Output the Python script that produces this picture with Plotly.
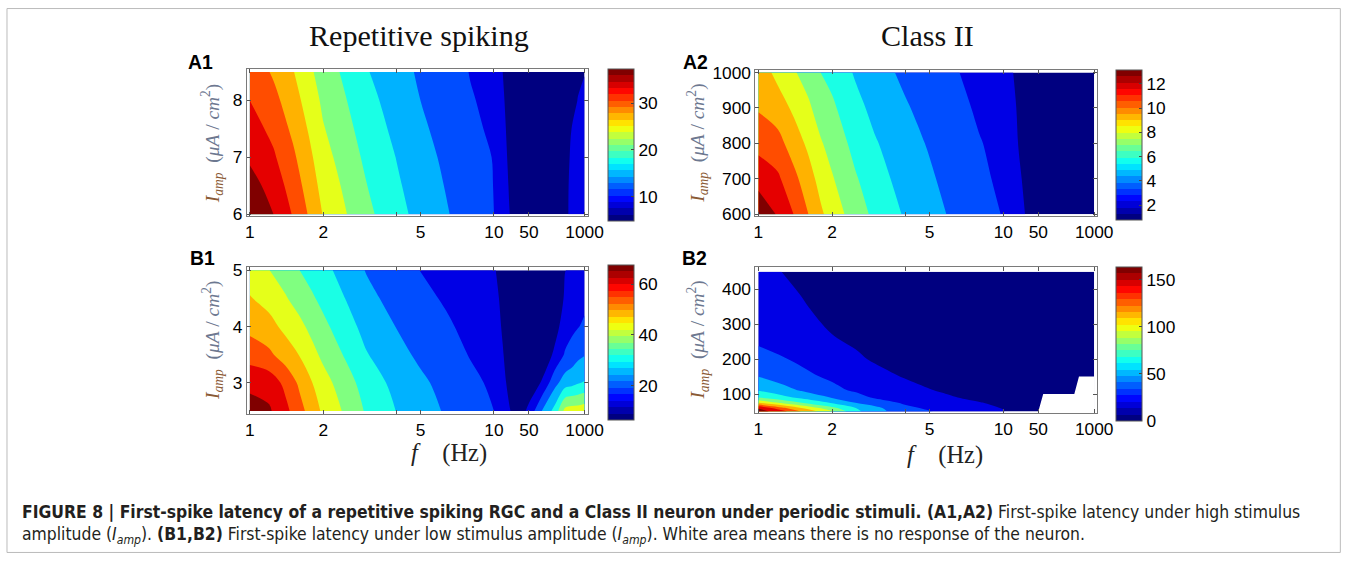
import numpy as np
import plotly.graph_objects as go

# ------------------------------------------------------------------ data
# x-axis tick labels (stimulus frequency, Hz)
freq_ticks = [1, 2, 4, 5, 10, 50, 1000]
freq_ticktext = ["1", "2", "", "5", "10", "50", "1000"]

# ---- A1: repetitive spiking RGC, high amplitude (latency, ms)
A1_freq = [1, 1.25, 1.5, 1.75, 2, 2.5, 3, 4, 5, 6.5, 8, 10, 15, 20, 30, 50, 100, 200, 350, 500, 700, 1000]
A1_amp = [6.0, 6.5, 7.0, 7.5, 8.0, 8.5]
A1_cols = [
    [37.5, 35.8, 34.0, 32.8, 31.5, 30.5],
    [34.5, 33.2, 31.9, 30.7, 29.4, 28.1],
    [31.3, 30.2, 29.1, 27.9, 26.8, 25.7],
    [28.2, 27.2, 26.2, 25.2, 24.2, 23.2],
    [25.3, 24.4, 23.6, 22.7, 21.9, 21.0],
    [22.5, 21.8, 21.0, 20.3, 19.5, 18.8],
    [20.3, 19.6, 18.9, 18.1, 17.4, 16.7],
    [17.4, 16.9, 16.4, 15.8, 15.3, 14.8],
    [15.6, 15.1, 14.6, 14.0, 13.5, 13.0],
    [13.6, 13.2, 12.8, 12.4, 12.0, 11.6],
    [12.0, 11.7, 11.4, 11.0, 10.7, 10.4],
    [10.5, 10.45, 10.4, 10.1, 9.85, 9.6],
    [8.7, 8.5, 8.2, 8.0, 7.8, 7.48],
    [7.6, 7.4, 7.2, 7.0, 6.7, 6.5],
    [6.5, 6.4, 6.2, 6.1, 5.9, 5.8],
    [5.8, 5.7, 5.6, 5.5, 5.4, 5.3],
    [5.5, 5.4, 5.3, 5.2, 5.1, 5.0],
    [5.8, 5.6, 5.5, 5.3, 5.2, 5.0],
    [7.2, 7.15, 7.05, 6.6, 6.0, 5.3],
    [7.8, 7.8, 7.7, 7.52, 7.0, 6.3],
    [8.0, 8.0, 7.9, 7.8, 7.55, 7.2],
    [8.2, 8.2, 8.1, 8.0, 7.8, 7.45],
]
A1_levels = dict(start=7.5, end=34.5, size=3.0)
A1_cbar = dict(zmin=4.7, zmax=37.2, ticks=[10, 20, 30])

# ---- A2: Class II neuron, high amplitude
A2_freq = [1, 1.2, 1.4, 1.6, 1.8, 2, 2.5, 3, 4, 5, 6.5, 8, 10, 15, 20, 30, 50, 100, 300, 1000]
A2_amp = [600, 700, 800, 900, 1000]
A2_rows = [
    [13.2, 12.75, 11.55, 10.4, 9.4, 8.65, 7.4, 6.5, 5.45, 4.85, 4.1, 3.6, 3.15, 2.6, 2.3, 1.9, 1.4, 1.0, 0.85, 0.8],
    [12.6, 11.8, 10.7, 9.7, 8.75, 8.1, 6.9, 6.1, 5.1, 4.55, 3.9, 3.4, 3.0, 2.45, 2.15, 1.75, 1.3, 0.97, 0.84, 0.8],
    [11.1, 10.8, 9.8, 8.95, 8.1, 7.55, 6.4, 5.7, 4.8, 4.3, 3.65, 3.25, 2.9, 2.3, 1.98, 1.65, 1.25, 0.95, 0.83, 0.79],
    [10.3, 9.8, 8.95, 8.2, 7.45, 7.0, 5.95, 5.25, 4.5, 4.0, 3.45, 3.05, 2.75, 2.2, 1.9, 1.5, 1.15, 0.92, 0.81, 0.79],
    [9.9, 8.85, 8.1, 7.5, 6.78, 6.45, 5.45, 4.85, 4.15, 3.75, 3.23, 2.9, 2.6, 2.05, 1.75, 1.4, 1.1, 0.9, 0.8, 0.78],
]
A2_levels = dict(start=2.0, end=12.8, size=1.2)
A2_cbar = dict(zmin=0.75, zmax=13.1, ticks=[2, 4, 6, 8, 10, 12])

# ---- B1: repetitive spiking RGC, low amplitude
B1_freq = [1, 1.2, 1.4, 1.6, 1.8, 2, 2.5, 3, 4, 5, 6.5, 8, 10, 15, 20, 30, 40, 50, 100, 200, 350, 500, 700, 1000]
B1_amp = [2.5, 3.0, 3.5, 4.0, 4.5, 5.0]
B1_cols = [
    [68, 64.8, 57.2, 52.4, 48.4, 45],
    [66.8, 63.4, 55.2, 50.0, 45.8, 42.1],
    [61.6, 58.5, 51.1, 46.4, 42.5, 39.2],
    [56.2, 52.8, 47.7, 43.5, 39.4, 36.0],
    [51.0, 48.1, 43.8, 40.2, 36.7, 33.8],
    [46.9, 44.3, 40.6, 37.4, 34.4, 31.8],
    [40.6, 38.3, 35.0, 32.2, 29.6, 27.3],
    [35.3, 33.3, 30.4, 28.0, 25.7, 23.7],
    [29.8, 28.2, 25.8, 23.8, 21.8, 20.2],
    [26.6, 25.1, 22.9, 21.1, 19.4, 17.9],
    [23.1, 21.9, 20.1, 18.6, 17.2, 16.0],
    [20.3, 19.3, 17.7, 16.5, 15.2, 14.2],
    [18.0, 17.0, 15.6, 14.4, 13.3, 12.3],
    [14.5, 13.2, 12.3, 11.45, 11.0, 10.8],
    [12.4, 11.0, 10.0, 9.5, 9.0, 8.8],
    [10.0, 8.0, 7.2, 6.8, 6.5, 6.4],
    [11.2, 7.8, 6.9, 6.6, 6.4, 6.4],
    [13.5, 8.0, 6.8, 6.5, 6.4, 6.5],
    [24, 12.5, 8.0, 6.8, 6.5, 6.5],
    [32, 22, 13, 10, 9, 9],
    [44, 27, 18.7, 14.5, 12.5, 11.95],
    [45, 28, 20.5, 16.5, 13.5, 12.3],
    [45, 29.5, 22.5, 17.7, 14, 12.5],
    [46, 30.5, 23.7, 19, 16.5, 15],
]
B1_levels = dict(start=12.0, end=66.0, size=6.0)
B1_cbar = dict(zmin=6.3, zmax=67.5, ticks=[20, 40, 60])

# ---- B2: Class II neuron, low amplitude
B2_freq = [1, 1.25, 1.5, 2, 2.5, 3, 4, 5, 6, 8, 10, 12, 20, 50, 100, 300, 1000]
B2_amp = [50, 60, 75, 90, 110, 150, 200, 275, 350, 450]
B2_rows = [
    [163, 145, 123.5, 95, 66, 52, 38, 32, 27, 21, 16.2, 14, 12, 10, 9, 8, 8],
    [154, 128, 108, 82, 62, 50, 35, 28, 23, 18.5, 15, 13, 11.5, 10, 9, 8, 8],
    [109, 90, 78, 60, 46, 40, 28, 23, 19.5, 16, 13, 12, 11, 10, 9, 8, 8],
    [77, 67, 58, 45.5, 37, 29, 23, 19, 16.5, 13, 11, 10.5, 10, 9, 8, 7, 7],
    [61.8, 52, 45.5, 35, 29, 25, 20, 16, 14, 11.5, 10, 9.5, 9, 8, 7, 6, 6],
    [46.4, 40, 34.5, 28.5, 23.5, 19.5, 14.5, 12, 10.5, 9, 8, 7.5, 7, 6, 5, 4.5, 4.5],
    [35, 32, 28.5, 23, 17.5, 14, 11, 9.5, 8.5, 7.5, 7, 6.5, 6, 5, 4.5, 4, 4],
    [27, 23, 20.5, 15.2, 12, 10, 8, 7, 6.5, 6, 5.5, 5, 4.5, 4, 3.5, 3, 3],
    [23, 19.5, 16.5, 12, 9.5, 8, 7, 6, 5.5, 5, 4.5, 4, 3.5, 3, 2.5, 2, 2],
    [19, 15.4, 13, 10, 8, 7, 6, 5, 4.5, 4, 3.5, 3, 2.5, 2, 1.5, 1, 1],
]
B2_levels = dict(start=15.5, end=155.0, size=15.5)
B2_cbar = dict(zmin=0, zmax=163, ticks=[0, 50, 100, 150])
# no-response region (white): upper amplitude edge vs frequency
B2_noresp_freq = [50, 65, 345, 443, 1000]
B2_noresp_amp = [50, 100, 100, 150, 150]

# ------------------------------------------------------------------ helpers
W, H = 1357, 561
# the photographed page comes out slightly scaled/shifted; positions below are
# given in reference-picture pixels and mapped back through that transform
AX, AY, BX, BY = 0.9875, 0.9725, 1.0, 7.5
SERIF = "Liberation Serif, Times New Roman, serif"
SANS = "Liberation Sans, Arial, sans-serif"


def fpos(f):
    """frequency -> axis position (log scale, compressed above 10 Hz)"""
    lf = np.log10(np.asarray(f, dtype=float))
    return np.interp(lf, [0, 1, np.log10(50), 3], [0, 1, 1.143, 1.371])


def jet(t):
    t = np.clip(t, 0, 1)
    r = np.clip(1.5 - abs(4 * t - 3), 0, 1)
    g = np.clip(1.5 - abs(4 * t - 2), 0, 1)
    b = np.clip(1.5 - abs(4 * t - 1), 0, 1)
    return "rgb(%d,%d,%d)" % (round(r * 255), round(g * 255), round(b * 255))


jet_cont = [[i / 64, jet(i / 64)] for i in range(65)]
NB = 24
jet_disc = []
for i in range(NB):
    c = jet(i / (NB - 1))
    jet_disc.append([i / NB, c])
    jet_disc.append([(i + 1) / NB, c])


def px(x):
    return ((x - BX) / AX) / W


def py(y):
    return 1 - ((y - BY) / AY) / H


def fs(s):
    return s / ((AX + AY) / 2)


fig = go.Figure()

panels = [
    ("A1", A1_freq, A1_amp, np.array(A1_cols).T, A1_levels, A1_cbar, (246, 587, 69, 216), (607, 69, 148), (6, 8, 1), [5.965, 8.544]),
    ("A2", A2_freq, A2_amp, np.array(A2_rows), A2_levels, A2_cbar, (755, 1097, 70, 216), (1116, 70, 146), (600, 1000, 100), [594.4, 1005.6]),
    ("B1", B1_freq, B1_amp, np.array(B1_cols).T, B1_levels, B1_cbar, (246, 587, 267, 414), (607, 265, 151), (3, 5, 1), [2.445, 5.053]),
    ("B2", B2_freq, B2_amp, np.array(B2_rows), B2_levels, B2_cbar, (755, 1097, 267, 413), (1116, 267, 150), (100, 400, 100), [45.5, 463.0]),
]

layout_axes = {}
xfirst, xlast = float(fpos(1)), float(fpos(1000))
for k, (name, fr, amp, z, lev, cb, box, cbb, yt, yr) in enumerate(panels):
    idx = k + 1
    xa = "x" if idx == 1 else "x%d" % idx
    ya = "y" if idx == 1 else "y%d" % idx
    x0, x1, y0, y1 = box
    ppu = (x1 - x0 - 6) / (xlast - xfirst)
    xr = [xfirst - 3 / ppu, xlast + 3 / ppu]
    fig.add_trace(go.Contour(
        x=fpos(fr), y=amp, z=z,
        contours=dict(start=lev["start"], end=lev["end"], size=lev["size"],
                      coloring="fill", showlines=False),
        colorscale=jet_cont, showscale=False, line=dict(width=0),
        xaxis=xa, yaxis=ya, hoverinfo="skip"))
    if name == "B2":
        nf = list(B2_noresp_freq) + [B2_noresp_freq[-1] * 1.3, B2_noresp_freq[-1] * 1.3, B2_noresp_freq[0]]
        na = list(B2_noresp_amp) + [B2_noresp_amp[-1], 30, 30]
        fig.add_trace(go.Scatter(
            x=fpos(nf), y=na, mode="lines", fill="toself", fillcolor="white",
            line=dict(width=0, color="white"), xaxis=xa, yaxis=ya,
            showlegend=False, hoverinfo="skip"))
    cx, cy, clen = cbb
    fig.add_trace(go.Scatter(
        x=[None], y=[None], mode="markers", xaxis=xa, yaxis=ya, showlegend=False,
        hoverinfo="skip",
        marker=dict(color=[cb["zmin"]], cmin=cb["zmin"], cmax=cb["zmax"],
                    colorscale=jet_disc, showscale=True,
                    colorbar=dict(x=px(cx), xanchor="left", xpad=0,
                                  y=py(cy), yanchor="top", ypad=0,
                                  len=clen / AY, lenmode="pixels",
                                  thickness=26 / AX, thicknessmode="pixels",
                                  outlinewidth=1, outlinecolor="#555",
                                  tickvals=cb["ticks"], ticks="inside",
                                  ticklen=3, tickcolor="#444",
                                  tickfont=dict(family=SANS, size=fs(17), color="black")))))
    axis_common = dict(showline=True, linecolor="#7a7a7a", linewidth=1,
                       mirror="ticks", ticks="inside", ticklen=4,
                       tickcolor="#555", showgrid=False, zeroline=False,
                       tickfont=dict(family=SANS, size=fs(17), color="black"))
    layout_axes["xaxis" if idx == 1 else "xaxis%d" % idx] = dict(
        domain=[px(x0), px(x1)], range=xr, anchor=ya,
        tickvals=list(fpos(freq_ticks)), ticktext=freq_ticktext, **axis_common)
    layout_axes["yaxis" if idx == 1 else "yaxis%d" % idx] = dict(
        domain=[py(y1), py(y0)], range=yr, anchor=xa,
        tickvals=list(np.arange(yt[0], yt[1] + yt[2] / 2, yt[2])), **axis_common)


def ann(text, x, y, size, family, color="black", angle=0, xanchor="center"):
    return dict(x=px(x), y=py(y), xref="paper", yref="paper", text=text,
                textangle=angle, showarrow=False, xanchor=xanchor,
                yanchor="middle", align="left",
                font=dict(family=family, size=fs(size), color=color))


annotations = []
ytitle = ('<span style="color:#8a5a34"><i>I</i><sub><i>amp</i></sub></span>'
          '  <span style="color:#6d7890">(<i>μA</i> / <i>cm</i><sup>2</sup>)</span>')
for (xc, yc) in [(211, 143), (697, 143), (211, 340), (697, 340)]:
    annotations.append(ann(ytitle, xc, yc, 19, SERIF, angle=-90))
for (xc, yc) in [(448, 453), (945, 455)]:
    annotations.append(ann("<i>f</i>    (Hz)", xc, yc, 24, SERIF, "#222"))
for txt, xc in [("Repetitive spiking", 418), ("Class II", 927)]:
    annotations.append(ann(txt, xc, 36, 29.5, SERIF, "#111"))
for txt, xc, yc in [("A1", 200, 62), ("A2", 695, 62), ("B1", 202, 258), ("B2", 694, 258)]:
    annotations.append(ann("<b>%s</b>" % txt, xc, yc, 19, SANS))

cap1 = ("<b>FIGURE 8 | First-spike latency of a repetitive spiking RGC and a Class II neuron "
        "under periodic stimuli. (A1,A2)</b> First-spike latency under high stimulus")
cap2 = ("amplitude (<i>I<sub>amp</sub></i>). <b>(B1,B2)</b> First-spike latency under low "
        "stimulus amplitude (<i>I<sub>amp</sub></i>). White area means there is no response of the neuron.")
CAPF = "Liberation Sans Narrow, DejaVu Sans Condensed, Arial Narrow, sans-serif"
annotations.append(ann(cap1, 19, 512, 17.05, CAPF, "#231f20", xanchor="left"))
annotations.append(ann(cap2, 19, 536, 17.05, CAPF, "#231f20", xanchor="left"))

fig.update_layout(
    width=W, height=H, margin=dict(l=0, r=0, t=0, b=0),
    paper_bgcolor="white", plot_bgcolor="white", showlegend=False,
    annotations=annotations,
    shapes=[dict(type="rect", xref="paper", yref="paper",
                 x0=px(6), x1=0.9995, y0=0.001, y1=0.999,
                 line=dict(color="#bbbbbb", width=1))],
    **layout_axes)

fig.write_html("out.html")
